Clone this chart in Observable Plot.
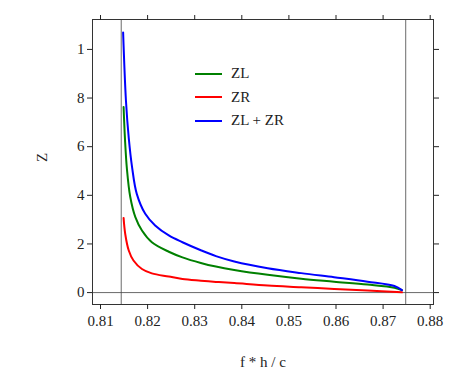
<!DOCTYPE html>
<html>
<head>
<meta charset="utf-8">
<script src="https://cdn.jsdelivr.net/npm/d3@7"></script>
<script src="https://cdn.jsdelivr.net/npm/@observablehq/plot@0.6"></script>
<style>
  body { margin: 0; background: #fff; }
  #wrap { position: relative; width: 457px; height: 381px; font-family: "Liberation Serif", "Times New Roman", Times, "DejaVu Serif", serif; }
  #wrap svg text { font-family: "Liberation Serif", "Times New Roman", Times, "DejaVu Serif", serif; }
  #legend { position: absolute; left: 195px; top: 62px; font-size: 15px; color: #222; }
  #legend .row { display: flex; align-items: center; height: 23.5px; }
  #legend .sw { width: 27px; height: 2px; margin-right: 9px; }
</style>
</head>
<body>
<div id="wrap"></div>
<script>
const xZL  = [0.8149, 0.8152, 0.8156, 0.8163, 0.8174, 0.8188, 0.8209, 0.8245, 0.8274, 0.8313, 0.8345, 0.8384, 0.8455, 0.8526, 0.8596, 0.8667, 0.8724, 0.8740];
const ZL   = [7.63, 6.3, 5.1, 3.95, 3.10, 2.55, 2.07, 1.68, 1.45, 1.22, 1.07, 0.93, 0.73, 0.57, 0.45, 0.33, 0.20, 0.10];
const xZR  = [0.8149, 0.81525, 0.8160, 0.8170, 0.8188, 0.8209, 0.8245, 0.8274, 0.8313, 0.8345, 0.8384, 0.8455, 0.8526, 0.8596, 0.8667, 0.8740];
const ZR   = [3.07, 2.41, 1.73, 1.32, 0.97, 0.79, 0.66, 0.56, 0.49, 0.44, 0.39, 0.29, 0.22, 0.15, 0.09, 0.01];
const xZLR = [0.8148, 0.8154, 0.8160, 0.8167, 0.8177, 0.8195, 0.8216, 0.8245, 0.8274, 0.8313, 0.8345, 0.8384, 0.8455, 0.8526, 0.8596, 0.8667, 0.8724, 0.8740];
const ZLR  = [10.7, 7.9, 6.35, 5.16, 4.06, 3.24, 2.76, 2.35, 2.07, 1.74, 1.50, 1.28, 1.00, 0.80, 0.63, 0.45, 0.27, 0.10];
const seriesNames = ["ZL", "ZR", "ZL + ZR"];
const seriesColors = ["#008000", "#ff0000", "#0000ff"];
const cutoffs = [0.8144, 0.8748];
const xTicks = [0.81, 0.82, 0.83, 0.84, 0.85, 0.86, 0.87, 0.88];
const yTicks = [0, 2, 4, 6, 8, 10];
const yTickLabels = ["0", "2", "4", "6", "8", "1"];

const seriesX = [xZL, xZR, xZLR];
const seriesValues = [ZL, ZR, ZLR];
const data = [];
seriesNames.forEach((name, s) => seriesX[s].forEach((x, i) => data.push({x, z: seriesValues[s][i], series: name})));

const serif = "'Liberation Serif', 'Times New Roman', Times, 'DejaVu Serif', serif";
const plot = Plot.plot({
  width: 457,
  height: 381,
  marginLeft: 92,
  marginRight: 24,
  marginTop: 19,
  marginBottom: 77,
  style: {fontFamily: serif, fontSize: "15px", color: "#222", background: "#fff"},
  x: {domain: [0.8083, 0.8807]},
  y: {domain: [-0.49, 11.23]},
  color: {domain: seriesNames, range: seriesColors},
  marks: [
    Plot.ruleY([0], {stroke: "#444", strokeWidth: 0.8}),
    Plot.ruleX(cutoffs, {stroke: "#444", strokeWidth: 0.8}),
    Plot.line(data, {x: "x", y: "z", stroke: "series", z: "series", strokeWidth: 2, curve: "catmull-rom"}),
    Plot.frame({stroke: "#333", strokeWidth: 1}),
    Plot.axisX({anchor: "bottom", ticks: xTicks, tickSize: 5, tickPadding: 6, tickFormat: d => d.toFixed(2), label: null}),
    Plot.axisX({anchor: "top", ticks: xTicks, tickSize: 5, tickFormat: () => "", label: null}),
    Plot.axisY({anchor: "left", ticks: yTicks, tickSize: 5, tickPadding: 3, tickFormat: d => yTickLabels[yTicks.indexOf(d)], label: null}),
    Plot.axisY({anchor: "right", ticks: yTicks, tickSize: 5, tickFormat: () => "", label: null}),
    Plot.text(["f * h / c"], {frameAnchor: "bottom", dy: 62, fontSize: 15}),
    Plot.text(["Z"], {frameAnchor: "left", dx: -50, rotate: -90, fontSize: 15})
  ]
});

const wrap = document.getElementById("wrap");
wrap.appendChild(plot);
const legend = document.createElement("div");
legend.id = "legend";
seriesNames.forEach((name, i) => {
  const row = document.createElement("div");
  row.className = "row";
  const sw = document.createElement("div");
  sw.className = "sw";
  sw.style.background = seriesColors[i];
  const t = document.createElement("span");
  t.textContent = name;
  row.appendChild(sw);
  row.appendChild(t);
  legend.appendChild(row);
});
wrap.appendChild(legend);
</script>
</body>
</html>
